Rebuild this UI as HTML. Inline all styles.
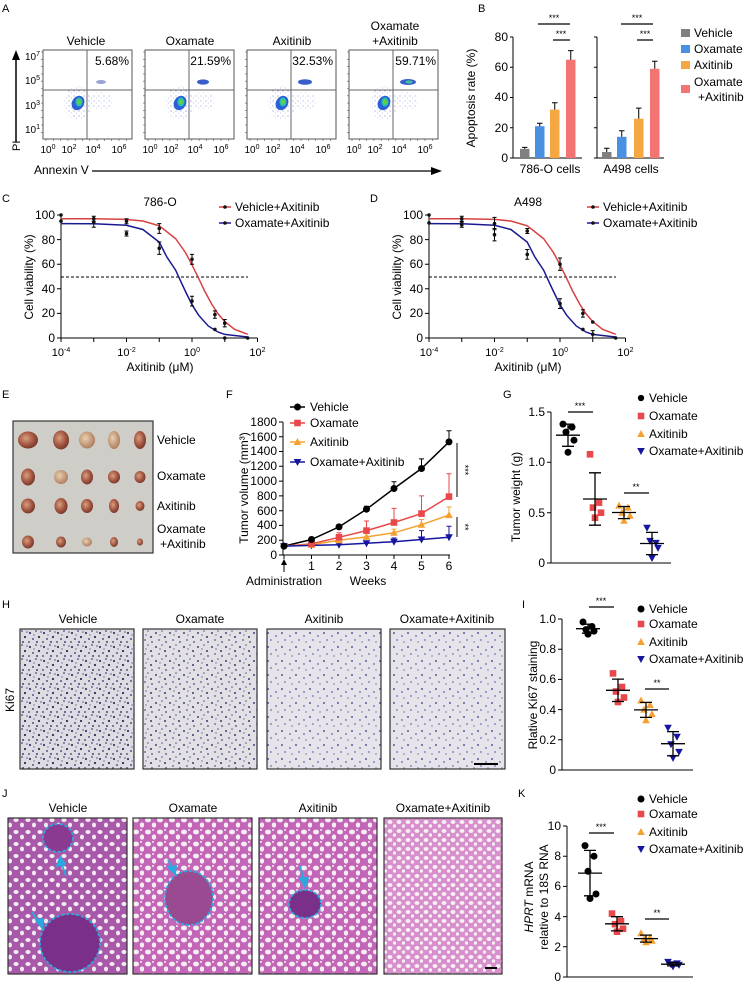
<!DOCTYPE html>
<html><head><meta charset="utf-8">
<style>
html,body{margin:0;padding:0;background:#fff;}
svg{display:block;font-family:"Liberation Sans",Arial,sans-serif;}
</style></head>
<body>
<svg width="747" height="985" viewBox="0 0 747 985" xmlns="http://www.w3.org/2000/svg" xmlns:xlink="http://www.w3.org/1999/xlink">
<defs>
<pattern id="ihc1" width="14" height="14" patternUnits="userSpaceOnUse">
<rect width="14" height="14" fill="#dedbe2"/>
<circle cx="2" cy="3" r="1.1" fill="#3a3a6a"/><circle cx="8" cy="1" r="0.9" fill="#4a4a80"/>
<circle cx="11" cy="7" r="1.1" fill="#2e2e55"/><circle cx="5" cy="9" r="1" fill="#55558a"/>
<circle cx="1" cy="12" r="0.9" fill="#3a3a6a"/><circle cx="9" cy="12" r="1" fill="#444477"/>
<circle cx="13" cy="2" r="0.8" fill="#555588"/><circle cx="6" cy="5" r="0.7" fill="#6a6a99"/>
</pattern>
<pattern id="ihc2" width="14" height="14" patternUnits="userSpaceOnUse">
<rect width="14" height="14" fill="#e2dfe5"/>
<circle cx="2" cy="3" r="1" fill="#45457a"/><circle cx="8" cy="1" r="0.8" fill="#5a5a8e"/>
<circle cx="11" cy="7" r="1" fill="#3a3a66"/><circle cx="5" cy="10" r="0.9" fill="#5a5a90"/>
<circle cx="12" cy="12" r="0.9" fill="#4a4a7a"/><circle cx="6" cy="5" r="0.7" fill="#6a6a99"/>
</pattern>
<pattern id="ihc3" width="14" height="14" patternUnits="userSpaceOnUse">
<rect width="14" height="14" fill="#e6e4ea"/>
<circle cx="2" cy="3" r="1" fill="#5a5aa0"/><circle cx="10" cy="6" r="0.9" fill="#6666aa"/>
<circle cx="5" cy="10" r="0.9" fill="#7070b0"/><circle cx="12" cy="12" r="0.7" fill="#6a6aa8"/>
</pattern>
<pattern id="lung" width="12" height="12" patternUnits="userSpaceOnUse">
<rect width="12" height="12" fill="#c466b8"/>
<ellipse cx="4" cy="4" rx="3" ry="2.4" fill="#f4eef3"/>
<ellipse cx="10" cy="9" rx="2.2" ry="2.6" fill="#f4eef3"/>
<circle cx="9" cy="2" r="1" fill="#f4eef3"/>
</pattern>
<pattern id="lungV" width="12" height="12" patternUnits="userSpaceOnUse">
<rect width="12" height="12" fill="#a858a8"/>
<ellipse cx="4" cy="4" rx="2.6" ry="2" fill="#f2ecf2"/>
<ellipse cx="10" cy="9" rx="2" ry="2.4" fill="#f2ecf2"/>
</pattern>
<pattern id="lungC" width="9" height="9" patternUnits="userSpaceOnUse">
<rect width="9" height="9" fill="#d890cc"/>
<ellipse cx="3" cy="3" rx="2.4" ry="2" fill="#f6f0f5"/>
<ellipse cx="7.5" cy="7" rx="1.6" ry="1.8" fill="#f6f0f5"/>
</pattern>
<pattern id="sc" width="5" height="5" patternUnits="userSpaceOnUse">
<circle cx="1" cy="1" r="0.6" fill="#8f98d8"/><circle cx="3.5" cy="3" r="0.5" fill="#a8b0e0"/>
</pattern>
<radialGradient id="tum" cx="40%" cy="40%" r="60%">
<stop offset="0" stop-color="#d8a080"/><stop offset="0.6" stop-color="#a85a45"/><stop offset="1" stop-color="#7a3a2c"/>
</radialGradient>
<radialGradient id="tum2" cx="40%" cy="40%" r="60%">
<stop offset="0" stop-color="#e8d0b0"/><stop offset="1" stop-color="#b08060"/>
</radialGradient>
<g id="mc"><circle r="3.5" fill="#000"/></g>
<g id="ms"><rect x="-3.3" y="-3.3" width="6.6" height="6.6" fill="#e8484a"/></g>
<g id="mu"><polygon points="0,-4 -3.8,3 3.8,3" fill="#f5a030"/></g>
<g id="md"><polygon points="0,4 -3.8,-3 3.8,-3" fill="#1515a0"/></g>
<g id="dk"><circle r="1.8" fill="#111"/></g>
<g id="flowc">
<rect x="0" y="0" width="89" height="89" fill="#fff" stroke="#555" stroke-width="1"/>
<path d="M0,2H-2M0,9.3H-2M0,16.6H-2M0,23.9H-2M0,31.2H-2M0,38.5H-2M0,45.8H-2M0,53.1H-2M0,60.4H-2M0,67.7H-2M0,75H-2M0,82.3H-2M3,89V91M10.3,89V91M17.6,89V91M24.9,89V91M32.2,89V91M39.5,89V91M46.8,89V91M54.1,89V91M61.4,89V91M68.7,89V91M76,89V91M83.3,89V91" stroke="#555" stroke-width="0.6"/>
<line x1="44" y1="0" x2="44" y2="89" stroke="#666"/>
<line x1="0" y1="40" x2="89" y2="40" stroke="#666"/>
<ellipse cx="35" cy="53" rx="14" ry="17" fill="url(#sc)"/>
<ellipse cx="58" cy="51" rx="11" ry="9" fill="url(#sc)" opacity="0.8"/>
<ellipse cx="35" cy="53" rx="6" ry="7.5" fill="#2c5fd6" transform="rotate(30 35 53)"/>
<ellipse cx="36" cy="52" rx="3.5" ry="4.5" fill="#2cc0b0"/>
<ellipse cx="36" cy="52" rx="2" ry="2.5" fill="#60d040"/>
<g font-size="10" text-anchor="middle">
<text x="5" y="103">10<tspan dy="-4" font-size="7">0</tspan></text>
<text x="26" y="103">10<tspan dy="-4" font-size="7">2</tspan></text>
<text x="50" y="103">10<tspan dy="-4" font-size="7">4</tspan></text>
<text x="76" y="103">10<tspan dy="-4" font-size="7">6</tspan></text>
</g>
</g>
</defs>

<g font-size="11">
<text x="2" y="12">A</text><text x="478" y="12">B</text>
<text x="2" y="202">C</text><text x="370" y="202">D</text>
<text x="2" y="398">E</text><text x="226" y="398">F</text><text x="503" y="398">G</text>
<text x="2" y="608">H</text><text x="522" y="608">I</text>
<text x="2" y="797">J</text><text x="518" y="797">K</text>
</g>

<!-- A -->
<g font-size="12" text-anchor="middle">
<text x="86" y="45">Vehicle</text><text x="190" y="45">Oxamate</text>
<text x="292" y="45">Axitinib</text><text x="395" y="30">Oxamate</text><text x="395" y="45">+Axitinib</text>
</g>
<use xlink:href="#flowc" x="43" y="50"/>
<use xlink:href="#flowc" x="145" y="50"/>
<use xlink:href="#flowc" x="247" y="50"/>
<use xlink:href="#flowc" x="349" y="50"/>
<g fill="#3a5ec8">
<ellipse cx="101" cy="82" rx="5" ry="2" fill="#9aa3d8"/>
<ellipse cx="203" cy="82" rx="6" ry="2.6"/>
<ellipse cx="305" cy="82" rx="7" ry="2.8"/>
<ellipse cx="408" cy="82" rx="8" ry="3"/>
<ellipse cx="409" cy="82" rx="3.5" ry="1.6" fill="#40c0a0"/>
</g>
<g font-size="12" text-anchor="end">
<text x="129" y="65">5.68%</text><text x="231" y="65">21.59%</text>
<text x="333" y="65">32.53%</text><text x="436" y="65">59.71%</text>
</g>
<g font-size="10" text-anchor="end">
<text x="40" y="60">10<tspan dy="-4" font-size="7">7</tspan></text>
<text x="40" y="84">10<tspan dy="-4" font-size="7">5</tspan></text>
<text x="40" y="109">10<tspan dy="-4" font-size="7">3</tspan></text>
<text x="40" y="133">10<tspan dy="-4" font-size="7">1</tspan></text>
</g>
<text x="20" y="151" font-size="11" transform="rotate(-90 20 151)">PI</text>
<line x1="16" y1="142" x2="16" y2="58" stroke="#000" stroke-width="1.5"/>
<polygon points="16,50 12,60 20,60" fill="#000"/>
<text x="34" y="174" font-size="12">Annexin V</text>
<line x1="92" y1="171" x2="434" y2="171" stroke="#000" stroke-width="1.2"/>
<polygon points="442,171 431,167 431,175" fill="#000"/>

<!-- B -->
<g stroke="#000" fill="none">
<path d="M513,37V158H582M597,37V158H664"/>
<path d="M510,37H513M510,67.3H513M510,97.5H513M510,127.8H513M510,158H513M594,37H597M594,67.3H597M594,97.5H597M594,127.8H597M594,158H597"/>
</g>
<g font-size="12" text-anchor="end">
<text x="508" y="41">80</text><text x="508" y="71">60</text><text x="508" y="101">40</text><text x="508" y="132">20</text><text x="508" y="162">0</text>
</g>
<rect x="520" y="148.9" width="9.5" height="9.1" fill="#808080"/>
<rect x="535" y="126.2" width="9.5" height="31.8" fill="#4a90e2"/>
<rect x="550" y="109.6" width="9.5" height="48.4" fill="#f5a742"/>
<rect x="566" y="59.7" width="9.5" height="98.3" fill="#f47474"/>
<rect x="602" y="152" width="9.5" height="6" fill="#808080"/>
<rect x="617" y="136.8" width="9.5" height="21.2" fill="#4a90e2"/>
<rect x="634" y="118.7" width="9.5" height="39.3" fill="#f5a742"/>
<rect x="650" y="68.8" width="9.5" height="89.2" fill="#f47474"/>
<path stroke="#000" fill="none" d="M524.75,148.9V147.4M522,147.4H527.5M539.75,126.2V123.2M537,123.2H542.5M554.75,109.6V102.8M552,102.8H557.5M570.75,59.7V50.6M568,50.6H573.5M606.75,152V148.2M604,148.2H609.5M621.75,136.8V130.7M619,130.7H624.5M638.75,118.7V108.1M636,108.1H641.5M654.75,68.8V61.2M652,61.2H657.5"/>
<path stroke="#000" stroke-width="1.2" d="M538,24H570M553,40H570M621,24H653M637,40H653"/>
<g font-size="9" text-anchor="middle">
<text x="554" y="21">***</text><text x="561" y="37">***</text><text x="637" y="21">***</text><text x="645" y="37">***</text>
</g>
<text x="475" y="98" font-size="12" text-anchor="middle" transform="rotate(-90 475 98)">Apoptosis rate (%)</text>
<text x="550" y="173" font-size="12" text-anchor="middle">786-O cells</text>
<text x="631" y="173" font-size="12" text-anchor="middle">A498 cells</text>
<g font-size="12">
<rect x="681" y="29" width="9" height="8" fill="#808080"/><text x="694" y="37">Vehicle</text>
<rect x="681" y="45" width="9" height="8" fill="#4a90e2"/><text x="694" y="53">Oxamate</text>
<rect x="681" y="61" width="9" height="8" fill="#f5a742"/><text x="694" y="69">Axitinib</text>
<rect x="681" y="85" width="9" height="8" fill="#f47474"/><text x="694" y="86">Oxamate</text><text x="698" y="101">+Axitinib</text>
</g>

<!-- C and D shared axes -->
<g id="cdax">
<path d="M61,215V338H257.5M57,215H61M57,239.6H61M57,264.2H61M57,288.8H61M57,313.4H61M57,338H61M61,338V342M93.75,338V342M126.5,338V342M159.25,338V342M192,338V342M224.75,338V342M257.5,338V342" stroke="#000" fill="none"/>
<g font-size="12" text-anchor="end">
<text x="55" y="219">100</text><text x="55" y="244">80</text><text x="55" y="268">60</text><text x="55" y="293">40</text><text x="55" y="317">20</text><text x="55" y="342">0</text>
</g>
<g font-size="11" text-anchor="middle">
<text x="61" y="356">10<tspan dy="-4" font-size="7">-4</tspan></text>
<text x="126.5" y="356">10<tspan dy="-4" font-size="7">-2</tspan></text>
<text x="192" y="356">10<tspan dy="-4" font-size="7">0</tspan></text>
<text x="257.5" y="356">10<tspan dy="-4" font-size="7">2</tspan></text>
</g>
<text x="160" y="371" font-size="12" text-anchor="middle">Axitinib (μM)</text>
<text x="33" y="277" font-size="12" text-anchor="middle" transform="rotate(-90 33 277)">Cell viability (%)</text>
<line x1="61" y1="277" x2="248" y2="277" stroke="#000" stroke-dasharray="3,2"/>
<path fill="none" stroke="#d94040" stroke-width="1.5" d="M61,218.7 L93.75,218.8 L126.5,219.4 L142.9,221 L159.25,225.8 L175.6,238.6 L185.5,252.6 L192,264.8 L198.6,278.3 L205.1,291.9 L211.7,304.1 L218.2,314 L224.75,321.6 L234.6,329.3 L247.7,334.3"/>
<path fill="none" stroke="#1a1a90" stroke-width="1.5" d="M61,223.6 L93.75,223.7 L126.5,225.3 L142.9,229.5 L159.25,242.1 L166.8,256.9 L175.6,270.1 L180.5,280.8 L185.5,291.5 L192,304.7 L198.6,315.2 L208.4,326.1 L218.2,332.1 L224.75,334.4 L247.7,337"/>
<line x1="219" y1="207" x2="231" y2="207" stroke="#d94040" stroke-width="1.5"/><use xlink:href="#dk" x="225" y="207"/>
<text x="235" y="211" font-size="12">Vehicle+Axitinib</text>
<line x1="219" y1="223" x2="231" y2="223" stroke="#1a1a90" stroke-width="1.5"/><use xlink:href="#dk" x="225" y="223"/>
<text x="235" y="227" font-size="12">Oxamate+Axitinib</text>
</g>
<use xlink:href="#cdax" x="368" y="0"/>
<text x="160" y="206" font-size="12" text-anchor="middle">786-O</text>
<text x="528" y="206" font-size="12" text-anchor="middle">A498</text>
<!-- C points -->
<path stroke="#000" fill="none" d="M93.75,216.2V221.2M91.75,216.2H95.75M91.75,221.2H95.75M93.75,217.5V227.3M91.75,227.3H95.75M126.5,218.7V223.7M124.5,218.7H128.5M124.5,223.7H128.5M126.5,231V236M124.5,231H128.5M124.5,236H128.5M159.25,223.6V233.4M157.25,223.6H161.25M157.25,233.4H161.25M159.25,242V254.4M157.25,242H161.25M157.25,254.4H161.25M192,254.4V264.2M190,254.4H194M190,264.2H194M192,296.2V306M190,296.2H194M190,306H194M214.9,310.9V318.3M212.9,310.9H216.9M212.9,318.3H216.9M224.75,319.5V326.9M222.75,319.5H226.75M222.75,326.9H226.75"/>
<use xlink:href="#dk" x="61" y="215"/><use xlink:href="#dk" x="61" y="221.1"/>
<use xlink:href="#dk" x="93.75" y="218.7"/><use xlink:href="#dk" x="93.75" y="222.4"/>
<use xlink:href="#dk" x="126.5" y="221.2"/><use xlink:href="#dk" x="126.5" y="233.5"/>
<use xlink:href="#dk" x="159.25" y="228.5"/><use xlink:href="#dk" x="159.25" y="248.2"/>
<use xlink:href="#dk" x="192" y="259.3"/><use xlink:href="#dk" x="192" y="301.1"/>
<use xlink:href="#dk" x="214.9" y="314.6"/><use xlink:href="#dk" x="214.9" y="329.4"/>
<use xlink:href="#dk" x="224.75" y="323.2"/><use xlink:href="#dk" x="224.75" y="338"/>
<use xlink:href="#dk" x="247.7" y="338"/>
<!-- D points -->
<g transform="translate(368,0)">
<path stroke="#000" fill="none" d="M93.75,216.2V221.2M91.75,216.2H95.75M91.75,221.2H95.75M93.75,222.3V227.3M91.75,222.3H95.75M91.75,227.3H95.75M126.5,217.4V229.8M124.5,217.4H128.5M124.5,229.8H128.5M126.5,228.5V240.9M124.5,228.5H128.5M124.5,240.9H128.5M159.25,228.5V233.5M157.25,228.5H161.25M157.25,233.5H161.25M159.25,249.5V259.3M157.25,249.5H161.25M157.25,259.3H161.25M192,258V270.4M190,258H194M190,270.4H194M192,298.7V308.5M190,298.7H194M190,308.5H194M214.9,309.7V317.1M212.9,309.7H216.9M212.9,317.1H216.9M224.75,330.6V338M222.75,330.6H226.75"/>
<use xlink:href="#dk" x="61" y="215"/><use xlink:href="#dk" x="61" y="222.9"/>
<use xlink:href="#dk" x="93.75" y="218.7"/><use xlink:href="#dk" x="93.75" y="224.8"/>
<use xlink:href="#dk" x="126.5" y="223.6"/><use xlink:href="#dk" x="126.5" y="234.7"/>
<use xlink:href="#dk" x="159.25" y="231"/><use xlink:href="#dk" x="159.25" y="254.4"/>
<use xlink:href="#dk" x="192" y="264.2"/><use xlink:href="#dk" x="192" y="303.6"/>
<use xlink:href="#dk" x="214.9" y="313.4"/><use xlink:href="#dk" x="214.9" y="329.4"/>
<use xlink:href="#dk" x="224.75" y="322"/><use xlink:href="#dk" x="224.75" y="334.3"/>
<use xlink:href="#dk" x="247.7" y="338"/>
</g>

<!-- E -->
<rect x="13" y="421" width="140" height="132" fill="#cfcdc8" stroke="#333" stroke-width="1.2"/>
<g fill="url(#tum)">
<ellipse cx="28" cy="440" rx="10" ry="8.5"/><ellipse cx="61" cy="440" rx="8" ry="9.5"/><ellipse cx="87" cy="440" rx="8" ry="8.5" fill="url(#tum2)"/><ellipse cx="114" cy="440" rx="6" ry="9" fill="url(#tum2)"/><ellipse cx="140" cy="440" rx="6" ry="9"/>
<ellipse cx="28" cy="477" rx="7" ry="8.5"/><ellipse cx="61" cy="477" rx="7" ry="7" fill="url(#tum2)"/><ellipse cx="87" cy="477" rx="6" ry="7.5"/><ellipse cx="114" cy="477" rx="6" ry="6.5"/><ellipse cx="140" cy="477" rx="5.5" ry="6"/>
<ellipse cx="28" cy="506" rx="7" ry="7.5"/><ellipse cx="61" cy="506" rx="6.5" ry="8"/><ellipse cx="87" cy="506" rx="6" ry="7"/><ellipse cx="114" cy="506" rx="5" ry="7"/><ellipse cx="140" cy="506" rx="4.5" ry="5"/>
<ellipse cx="28" cy="542" rx="6" ry="6.5"/><ellipse cx="61" cy="542" rx="5" ry="5.5"/><ellipse cx="87" cy="542" rx="5" ry="4.5" fill="url(#tum2)"/><ellipse cx="114" cy="542" rx="4" ry="5"/><ellipse cx="140" cy="542" rx="3" ry="3.5"/>
</g>
<g font-size="12">
<text x="157" y="444">Vehicle</text><text x="157" y="480">Oxamate</text><text x="157" y="510">Axitinib</text>
<text x="157" y="533">Oxamate</text><text x="160" y="548">+Axitinib</text>
</g>

<!-- F -->
<path stroke="#000" fill="none" d="M283,422V555H450M279,555H283M279,540.2H283M279,525.4H283M279,510.7H283M279,495.9H283M279,481.1H283M279,466.3H283M279,451.5H283M279,436.8H283M279,422H283M284,555V559M311.5,555V559M339,555V559M366.5,555V559M394,555V559M421.5,555V559M449,555V559"/>
<g font-size="12" text-anchor="end">
<text x="277" y="559">0</text><text x="277" y="544">200</text><text x="277" y="529">400</text><text x="277" y="515">600</text><text x="277" y="500">800</text><text x="277" y="485">1000</text><text x="277" y="470">1200</text><text x="277" y="455">1400</text><text x="277" y="441">1600</text><text x="277" y="426">1800</text>
</g>
<g font-size="12" text-anchor="middle">
<text x="311.5" y="570">1</text><text x="339" y="570">2</text><text x="366.5" y="570">3</text><text x="394" y="570">4</text><text x="421.5" y="570">5</text><text x="449" y="570">6</text>
<text x="284" y="585">Administration</text><text x="368" y="585">Weeks</text>
</g>
<line x1="284" y1="572" x2="284" y2="563" stroke="#000"/><polygon points="284,559 281,565 287,565" fill="#000"/>
<text x="248" y="488" font-size="12" text-anchor="middle" transform="rotate(-90 248 488)">Tumor volume (mm³)</text>
<!-- error bars -->
<path fill="none" stroke="#000" d="M311.5,539.5V537.3M309,537.3H314M339,526.9V524.7M336.5,524.7H341.5M366.5,509.2V506.2M364,506.2H369M394,488.5V481.8M391.5,481.8H396.5M421.5,468.5V458.9M419,458.9H424M449,441.9V430.8M446.5,430.8H451.5"/>
<path fill="none" stroke="#e8484a" d="M311.5,543.9V541M309,541H314M339,537.3V532.8M336.5,532.8H341.5M366.5,530.6V521M364,521H369M394,522.5V508.4M391.5,508.4H396.5M421.5,513.6V495.9M419,495.9H424M449,496.6V473.7M446.5,473.7H451.5"/>
<path fill="none" stroke="#f5a030" d="M311.5,544.7V543.2M309,543.2H314M339,540.2V538M336.5,538H341.5M366.5,536.9V533.2M364,533.2H369M394,532.8V529.1M391.5,529.1H396.5M421.5,524.7V519.5M419,519.5H424M449,515.1V507M446.5,507H451.5"/>
<path fill="none" stroke="#1515a0" d="M339,544.7V543.2M336.5,543.2H341.5M366.5,543.2V541M364,541H369M394,541.7V538M391.5,538H396.5M421.5,539.5V530.6M419,530.6H424M449,537.3V526.2M446.5,526.2H451.5"/>
<polyline fill="none" stroke="#000" stroke-width="1.5" points="284,546.1 311.5,539.5 339,526.9 366.5,509.2 394,488.5 421.5,468.5 449,441.9"/>
<polyline fill="none" stroke="#e8484a" stroke-width="1.5" points="284,546.1 311.5,543.9 339,537.3 366.5,530.6 394,522.5 421.5,513.6 449,496.6"/>
<polyline fill="none" stroke="#f5a030" stroke-width="1.5" points="284,546.1 311.5,544.7 339,540.2 366.5,536.9 394,532.8 421.5,524.7 449,515.1"/>
<polyline fill="none" stroke="#1515a0" stroke-width="1.5" points="284,546.1 311.5,545.4 339,544.7 366.5,543.2 394,541.7 421.5,539.5 449,537.3"/>
<g transform="translate(0,0)">
<use xlink:href="#md" x="284" y="546.1"/><use xlink:href="#md" x="311.5" y="545.4"/><use xlink:href="#md" x="339" y="544.7"/><use xlink:href="#md" x="366.5" y="543.2"/><use xlink:href="#md" x="394" y="541.7"/><use xlink:href="#md" x="421.5" y="539.5"/><use xlink:href="#md" x="449" y="537.3"/>
<use xlink:href="#mu" x="311.5" y="544.7"/><use xlink:href="#mu" x="339" y="540.2"/><use xlink:href="#mu" x="366.5" y="536.9"/><use xlink:href="#mu" x="394" y="532.8"/><use xlink:href="#mu" x="421.5" y="524.7"/><use xlink:href="#mu" x="449" y="515.1"/>
<use xlink:href="#ms" x="311.5" y="543.9"/><use xlink:href="#ms" x="339" y="537.3"/><use xlink:href="#ms" x="366.5" y="530.6"/><use xlink:href="#ms" x="394" y="522.5"/><use xlink:href="#ms" x="421.5" y="513.6"/><use xlink:href="#ms" x="449" y="496.6"/>
<use xlink:href="#mc" x="284" y="546.1"/><use xlink:href="#mc" x="311.5" y="539.5"/><use xlink:href="#mc" x="339" y="526.9"/><use xlink:href="#mc" x="366.5" y="509.2"/><use xlink:href="#mc" x="394" y="488.5"/><use xlink:href="#mc" x="421.5" y="468.5"/><use xlink:href="#mc" x="449" y="441.9"/>
</g>
<line x1="290" y1="407" x2="305" y2="407" stroke="#000" stroke-width="1.5"/><use xlink:href="#mc" x="297.5" y="407"/><text x="310" y="411" font-size="12">Vehicle</text>
<line x1="290" y1="423" x2="305" y2="423" stroke="#e8484a" stroke-width="1.5"/><use xlink:href="#ms" x="297.5" y="423"/><text x="310" y="427" font-size="12">Oxamate</text>
<line x1="290" y1="442" x2="305" y2="442" stroke="#f5a030" stroke-width="1.5"/><use xlink:href="#mu" x="297.5" y="442"/><text x="310" y="446" font-size="12">Axitinib</text>
<line x1="290" y1="462" x2="305" y2="462" stroke="#1515a0" stroke-width="1.5"/><use xlink:href="#md" x="297.5" y="462"/><text x="310" y="466" font-size="12">Oxamate+Axitinib</text>
<path stroke="#000" d="M457,443V497M457,517V537"/>
<text x="462" y="470" font-size="9" text-anchor="middle" transform="rotate(90 462 470)">***</text>
<text x="462" y="527" font-size="9" text-anchor="middle" transform="rotate(90 462 527)">**</text>

<!-- G -->
<path stroke="#000" fill="none" d="M551,412V563H671M547,563H551M547,512.7H551M547,462.3H551M547,412H551"/>
<g font-size="12" text-anchor="end"><text x="545" y="567">0</text><text x="545" y="517">0.5</text><text x="545" y="466">1.0</text><text x="545" y="416">1.5</text></g>
<text x="520" y="497" font-size="12" text-anchor="middle" transform="rotate(-90 520 497)">Tumor weight (g)</text>
<use xlink:href="#mc" x="563" y="424.1"/><use xlink:href="#mc" x="572" y="427.1"/><use xlink:href="#mc" x="566" y="432.1"/><use xlink:href="#mc" x="574" y="440.2"/><use xlink:href="#mc" x="568" y="452.3"/>
<use xlink:href="#ms" x="590" y="454.3"/><use xlink:href="#ms" x="599" y="502.6"/><use xlink:href="#ms" x="593" y="507.6"/><use xlink:href="#ms" x="601" y="512.7"/><use xlink:href="#ms" x="595" y="517.7"/>
<use xlink:href="#mu" x="619" y="505.6"/><use xlink:href="#mu" x="628" y="507.6"/><use xlink:href="#mu" x="622" y="512.7"/><use xlink:href="#mu" x="630" y="515.7"/><use xlink:href="#mu" x="624" y="520.7"/>
<use xlink:href="#md" x="647" y="527.8"/><use xlink:href="#md" x="656" y="542.9"/><use xlink:href="#md" x="650" y="540.9"/><use xlink:href="#md" x="658" y="547.9"/><use xlink:href="#md" x="652" y="558"/>
<path stroke="#000" stroke-width="1.3" fill="none" d="M556,435.2H580M568,446.3V424.1M562,446.3H574M562,424.1H574
M583,499H607M595,525.2V472.8M589,525.2H601M589,472.8H601
M612,512.5H636M624,518.6V506.5M618,518.6H630M618,506.5H630
M640,543.5H664M652,554.6V532.4M646,554.6H658M646,532.4H658
M568,412H593M624,493H649"/>
<text x="580" y="409" font-size="9" text-anchor="middle">***</text><text x="636" y="490" font-size="9" text-anchor="middle">**</text>
<use xlink:href="#mc" x="641" y="398" transform="translate(641,398) scale(0.9) translate(-641,-398)"/><text x="649" y="402" font-size="12">Vehicle</text>
<use xlink:href="#ms" x="641" y="416"/><text x="649" y="420" font-size="12">Oxamate</text>
<use xlink:href="#mu" x="641" y="434"/><text x="649" y="438" font-size="12">Axitinib</text>
<use xlink:href="#md" x="641" y="451"/><text x="649" y="455" font-size="12">Oxamate+Axitinib</text>

<!-- H -->
<g font-size="12" text-anchor="middle">
<text x="78" y="623">Vehicle</text><text x="200" y="623">Oxamate</text><text x="324" y="623">Axitinib</text><text x="447" y="623">Oxamate+Axitinib</text>
</g>
<rect x="20" y="629" width="114" height="140" fill="url(#ihc1)" stroke="#333" stroke-width="1.2"/>
<rect x="143" y="629" width="114" height="140" fill="url(#ihc2)" stroke="#333" stroke-width="1.2"/>
<rect x="267" y="629" width="114" height="140" fill="url(#ihc3)" stroke="#333" stroke-width="1.2"/>
<rect x="390" y="629" width="115" height="140" fill="url(#ihc3)" stroke="#333" stroke-width="1.2"/>
<line x1="474" y1="764" x2="498" y2="764" stroke="#000" stroke-width="2"/>
<text x="14" y="700" font-size="12" text-anchor="middle" transform="rotate(-90 14 700)">Ki67</text>

<!-- I -->
<path stroke="#000" fill="none" d="M562,619V770H693M558,770H562M558,739.8H562M558,709.6H562M558,679.4H562M558,649.2H562M558,619H562"/>
<g font-size="12" text-anchor="end"><text x="556" y="774">0</text><text x="556" y="744">0.2</text><text x="556" y="714">0.4</text><text x="556" y="683">0.6</text><text x="556" y="653">0.8</text><text x="556" y="623">1.0</text></g>
<text x="537" y="695" font-size="12" text-anchor="middle" transform="rotate(-90 537 695)">Rlative Ki67 staining</text>
<use xlink:href="#mc" x="583" y="622"/><use xlink:href="#mc" x="592" y="626.5"/><use xlink:href="#mc" x="586" y="629.6"/><use xlink:href="#mc" x="594" y="631.1"/><use xlink:href="#mc" x="588" y="634.1"/>
<use xlink:href="#ms" x="613" y="673.4"/><use xlink:href="#ms" x="622" y="687"/><use xlink:href="#ms" x="616" y="691.5"/><use xlink:href="#ms" x="624" y="697.5"/><use xlink:href="#ms" x="618" y="702"/>
<use xlink:href="#mu" x="641" y="700.5"/><use xlink:href="#mu" x="650" y="705"/><use xlink:href="#mu" x="644" y="709.6"/><use xlink:href="#mu" x="652" y="714.1"/><use xlink:href="#mu" x="646" y="720.2"/>
<use xlink:href="#md" x="668" y="727.7"/><use xlink:href="#md" x="677" y="736.8"/><use xlink:href="#md" x="671" y="744.3"/><use xlink:href="#md" x="679" y="751.9"/><use xlink:href="#md" x="673" y="757.9"/>
<path stroke="#000" stroke-width="1.3" fill="none" d="M576,628.7H600M588,633.2V624.2M582,633.2H594M582,624.2H594
M606,690.3H630M618,701.5V679.1M612,701.5H624M612,679.1H624
M634,709.9H658M646,717.4V702.4M640,717.4H652M640,702.4H652
M661,743.7H685M673,755.8V731.6M667,755.8H679M667,731.6H679
M589,607H614M645,689H669"/>
<text x="601" y="604" font-size="9" text-anchor="middle">***</text><text x="657" y="686" font-size="9" text-anchor="middle">**</text>
<use xlink:href="#mc" x="641" y="609"/><text x="649" y="613" font-size="12">Vehicle</text>
<use xlink:href="#ms" x="641" y="624"/><text x="649" y="628" font-size="12">Oxamate</text>
<use xlink:href="#mu" x="641" y="642"/><text x="649" y="646" font-size="12">Axitinib</text>
<use xlink:href="#md" x="641" y="659"/><text x="649" y="663" font-size="12">Oxamate+Axitinib</text>

<!-- J -->
<g font-size="12" text-anchor="middle">
<text x="68" y="812">Vehicle</text><text x="193" y="812">Oxamate</text><text x="318" y="812">Axitinib</text><text x="443" y="812">Oxamate+Axitinib</text>
</g>
<rect x="8" y="818" width="119" height="156" fill="url(#lungV)" stroke="#333" stroke-width="1.2"/>
<rect x="133" y="818" width="119" height="156" fill="url(#lung)" stroke="#333" stroke-width="1.2"/>
<rect x="259" y="818" width="118" height="156" fill="url(#lung)" stroke="#333" stroke-width="1.2"/>
<rect x="384" y="818" width="118" height="156" fill="url(#lungC)" stroke="#333" stroke-width="1.2"/>
<g stroke="#2aa8e0" stroke-width="1.8" stroke-dasharray="3,2">
<ellipse cx="58" cy="838" rx="15" ry="14" fill="#8a3a90"/>
<ellipse cx="70" cy="943" rx="30" ry="29" fill="#7a3088"/>
<ellipse cx="189" cy="898" rx="24" ry="27" fill="#9a4a90"/>
<ellipse cx="305" cy="904" rx="16" ry="14" fill="#7a3088"/>
</g>
<g stroke="#2aa8e0" stroke-width="1.8" fill="#2aa8e0">
<line x1="66" y1="876" x2="61" y2="862"/><polygon points="60,857 57,866 65,864"/>
<line x1="32" y1="912" x2="40" y2="924"/><polygon points="42,928 36,920 43,919"/>
<line x1="168" y1="860" x2="173" y2="870"/><polygon points="175,874 168,867 176,866"/>
<line x1="300" y1="866" x2="304" y2="882"/><polygon points="305,887 300,878 308,878"/>
</g>
<line x1="485" y1="968" x2="497" y2="968" stroke="#000" stroke-width="2"/>

<!-- K -->
<path stroke="#000" fill="none" d="M567,826V977H693M563,977H567M563,946.8H567M563,916.6H567M563,886.4H567M563,856.2H567M563,826H567"/>
<g font-size="12" text-anchor="end"><text x="561" y="981">0</text><text x="561" y="951">2</text><text x="561" y="921">4</text><text x="561" y="890">6</text><text x="561" y="860">8</text><text x="561" y="830">10</text></g>
<text x="533" y="897" font-size="12" text-anchor="middle" transform="rotate(-90 533 897)"><tspan font-style="italic">HPRT</tspan> mRNA</text>
<text x="548" y="897" font-size="12" text-anchor="middle" transform="rotate(-90 548 897)">relative to 18S RNA</text>
<use xlink:href="#mc" x="585" y="845.6"/><use xlink:href="#mc" x="594" y="856.2"/><use xlink:href="#mc" x="588" y="871.3"/><use xlink:href="#mc" x="596" y="894"/><use xlink:href="#mc" x="590" y="898.5"/>
<use xlink:href="#ms" x="612" y="913.6"/><use xlink:href="#ms" x="621" y="921.1"/><use xlink:href="#ms" x="615" y="924.2"/><use xlink:href="#ms" x="623" y="928.7"/><use xlink:href="#ms" x="617" y="931.7"/>
<use xlink:href="#mu" x="641" y="933.2"/><use xlink:href="#mu" x="650" y="937.7"/><use xlink:href="#mu" x="644" y="939.3"/><use xlink:href="#mu" x="652" y="940.8"/><use xlink:href="#mu" x="646" y="942.3"/>
<use xlink:href="#md" x="668" y="961.9"/><use xlink:href="#md" x="677" y="963.4"/><use xlink:href="#md" x="671" y="964.2"/><use xlink:href="#md" x="679" y="964.9"/><use xlink:href="#md" x="673" y="966.4"/>
<path stroke="#000" stroke-width="1.3" fill="none" d="M578,873.1H602M590,895.8V850.4M584,895.8H596M584,850.4H596
M605,923.8H629M617,930.9V916.7M611,930.9H623M611,916.7H623
M634,938.6H658M646,942.1V935.1M640,942.1H652M640,935.1H652
M661,964.2H685M673,965.9V962.5M667,965.9H679M667,962.5H679
M589,833H614M645,919H669"/>
<text x="601" y="830" font-size="9" text-anchor="middle">***</text><text x="657" y="916" font-size="9" text-anchor="middle">**</text>
<use xlink:href="#mc" x="641" y="799"/><text x="649" y="803" font-size="12">Vehicle</text>
<use xlink:href="#ms" x="641" y="814"/><text x="649" y="818" font-size="12">Oxamate</text>
<use xlink:href="#mu" x="641" y="832"/><text x="649" y="836" font-size="12">Axitinib</text>
<use xlink:href="#md" x="641" y="849"/><text x="649" y="853" font-size="12">Oxamate+Axitinib</text>
</svg>
</body></html>
